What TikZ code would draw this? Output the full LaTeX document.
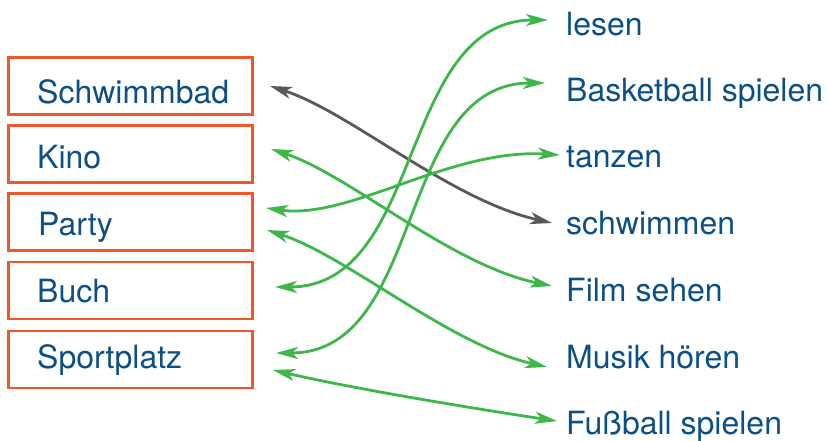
\documentclass[tikz,border=0pt]{standalone}
\usepackage{fontspec}
\setmainfont{TeX Gyre Heros}
\usetikzlibrary{arrows.meta}
\definecolor{boxred}{HTML}{F0582A}
\definecolor{txtblue}{HTML}{0B4F84}
\definecolor{lgreen}{HTML}{3DB64A}
\definecolor{lgray}{HTML}{58595B}
\begin{document}
\begin{tikzpicture}[x=1pt,y=-1pt,
  box/.style={draw=boxred,line width=2.4pt,minimum width=244pt,minimum height=57pt,inner sep=0pt},
  lbl/.style={anchor=base west,inner sep=0pt,text=txtblue,font=\fontsize{32}{36}\selectfont},
  conn/.style={line width=2.8pt,{Stealth[length=22pt,width=12pt,inset=6pt]}-{Stealth[length=22pt,width=12pt,inset=6pt]}},
  gconn/.style={conn,draw=lgreen},
  kconn/.style={conn,draw=lgray}]
\useasboundingbox (0,0) rectangle (827,440);
% boxes
\node[box] (b1) at (130.5,86) {};
\node[box] (b2) at (130.5,154) {};
\node[box] (b3) at (130.5,222) {};
\node[box] (b4) at (130.5,290.5) {};
\node[box] (b5) at (130.5,359.5) {};
% left labels
\node[lbl] (l1) at (37,103) {Schwimmbad};
\node[lbl] (l2) at (37,168.5) {Kino};
\node[lbl] (l3) at (38,235) {Party};
\node[lbl] (l4) at (37,302) {Buch};
\node[lbl] (l5) at (37,368) {Sportplatz};
% right labels
\node[lbl] (r1) at (566,35) {lesen};
\node[lbl] (r2) at (566,101) {Basketball spielen};
\node[lbl] (r3) at (566,167) {tanzen};
\node[lbl] (r4) at (566,234) {schwimmen};
\node[lbl] (r5) at (566,301) {Film sehen};
\node[lbl] (r6) at (566,368) {Musik hören};
\node[lbl] (r7) at (566,434) {Fußball spielen};
% endpoints
\coordinate (s1) at (270,86);
\coordinate (s2) at (271,149);
\coordinate (s3a) at (266,208);
\coordinate (s3b) at (267,230);
\coordinate (s4) at (275,287);
\coordinate (s5a) at (276,353);
\coordinate (s5b) at (273,370);
\coordinate (e1) at (548,20);
\coordinate (e2) at (545,83);
\coordinate (e3) at (560,155);
\coordinate (e4) at (552,223);
\coordinate (e5) at (552,286);
\coordinate (e6) at (547,367);
\coordinate (e7) at (557,421);
% connectors
\draw[kconn] (s1) .. controls (350,112) and (450,200) .. (e4);
\draw[gconn] (s4) .. controls (425,287) and (398,20) .. (e1);
\draw[gconn] (s5a) .. controls (426,353) and (395,83) .. (e2);
\draw[gconn] (s3a) .. controls (350,220) and (450,148) .. (e3);
\draw[gconn] (s2) .. controls (350,175) and (450,265) .. (e5);
\draw[gconn] (s3b) .. controls (347,256) and (450,345) .. (e6);
\draw[gconn] (s5b) .. controls (350,388) and (470,408) .. (e7);
\end{tikzpicture}
\end{document}
